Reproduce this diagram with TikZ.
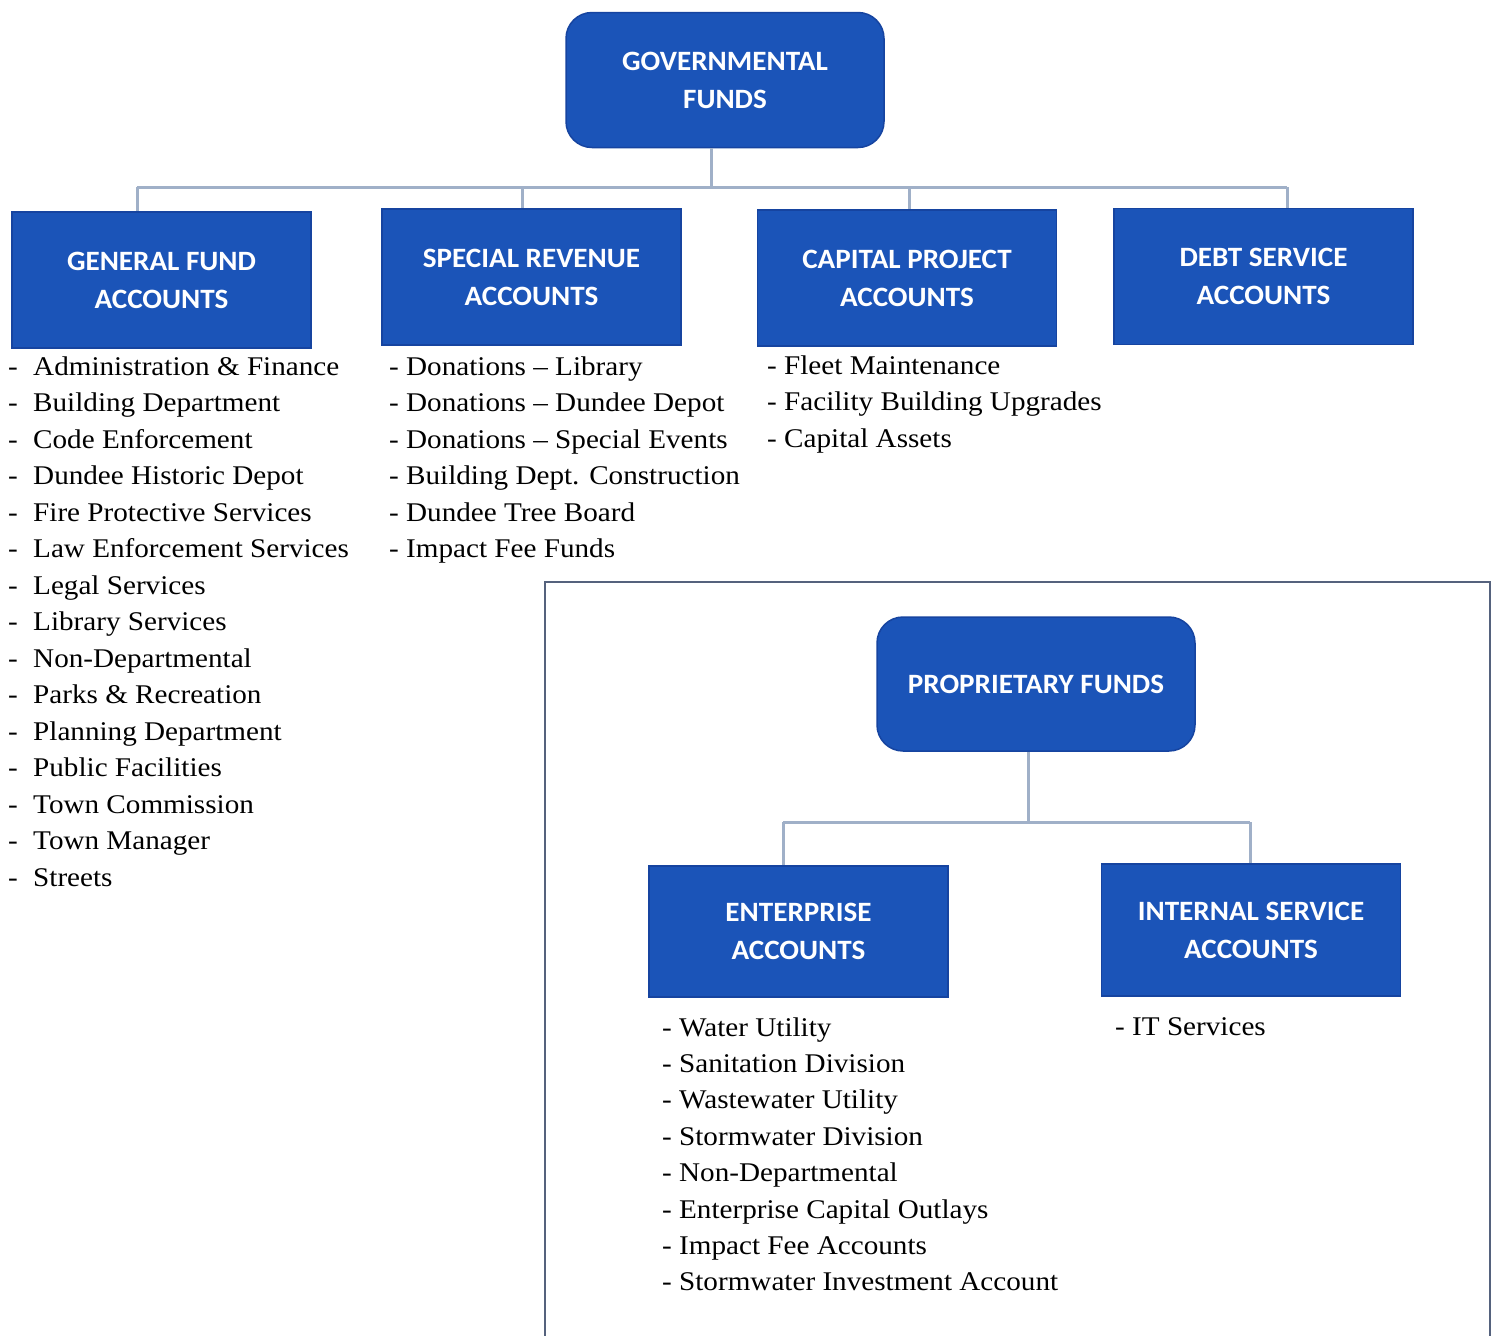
\documentclass[tikz,border=0pt]{standalone}
\usepackage{fontspec}
\setmainfont{Liberation Serif}
\newfontfamily\boxfont[FakeStretch=1.04]{Carlito}
\newfontfamily\listfont[FakeStretch=1.08,Ligatures=TeX]{Liberation Serif}
\definecolor{boxblue}{RGB}{27,84,184}
\definecolor{boxedge}{RGB}{22,68,160}
\definecolor{connc}{RGB}{160,176,200}
\definecolor{framec}{RGB}{85,98,125}
\begin{document}
\begin{tikzpicture}[x=1pt,y=-1pt,
  bluebox/.style={fill=boxblue,draw=boxedge,line width=1.5pt,text=white,align=center,
    font=\boxfont\bfseries\fontsize{28}{38}\selectfont,inner sep=0pt,
    minimum width=299,minimum height=136},
  roundbox/.style={bluebox,rounded corners=26pt,minimum width=318,minimum height=135},
  conn/.style={draw=connc,line width=3pt},
  item/.style={anchor=base west,inner sep=0pt,font=\listfont\fontsize{27}{36}\selectfont,text=black}]
\useasboundingbox (0,0) rectangle (1497,1336);
\fill[white] (0,0) rectangle (1497,1336);

% outer frame of proprietary funds
\draw[draw=framec,line width=2.5pt] (545,1340) -- (545,582) -- (1490,582) -- (1490,1340);

% governmental
\node[roundbox] (gov) at (725,80) {GOVERNMENTAL\\FUNDS};
\node[bluebox] (gen) at (161.5,280) {GENERAL FUND\\ACCOUNTS};
\node[bluebox] (spe) at (531.5,277) {SPECIAL REVENUE\\ACCOUNTS};
\node[bluebox] (cap) at (907,278) {CAPITAL PROJECT\\ACCOUNTS};
\node[bluebox] (deb) at (1263.5,276.5) {DEBT SERVICE\\ACCOUNTS};

\coordinate (gj) at (711,187);
\coordinate (b1) at (137,187);
\coordinate (b2) at (522,187);
\coordinate (b3) at (909,187);
\coordinate (b4) at (1287,187);
\draw[conn] (gov.south -| gj) -- (gj);
\draw[conn] (b1) -- (b4);
\draw[conn] (b1) -- (b1 |- gen.north);
\draw[conn] (b2) -- (b2 |- spe.north);
\draw[conn] (b3) -- (b3 |- cap.north);
\draw[conn] (b4) -- (b4 |- deb.north);

% proprietary
\node[roundbox,minimum height=134] (pro) at (1036,684) {PROPRIETARY FUNDS};
\node[bluebox,minimum height=131] (ent) at (798.5,931.5) {ENTERPRISE\\ACCOUNTS};
\node[bluebox,minimum height=132] (int) at (1251,930) {INTERNAL SERVICE\\ACCOUNTS};
\coordinate (pj) at (1028,822);
\coordinate (c1) at (783,822);
\coordinate (c2) at (1250,822);
\draw[conn] (pro.south -| pj) -- (pj);
\draw[conn] (c1) -- (c2);
\draw[conn] (c1) -- (c1 |- ent.north);
\draw[conn] (c2) -- (c2 |- int.north);

% general fund list
\foreach \t [count=\i] in {Administration \& Finance,Building Department,Code Enforcement,Dundee Historic Depot,Fire Protective Services,Law Enforcement Services,Legal Services,Library Services,Non-Departmental,Parks \& Recreation,Planning Department,Public Facilities,Town Commission,Town Manager,Streets}{
  \node[item] (gd\i) at (8,{375+36.5*(\i-1)}) {-};
  \node[item] (g\i) at (33,{375+36.5*(\i-1)}) {\t};
}
% special revenue list
\foreach \t [count=\i] in {Donations – Library,Donations – Dundee Depot,Donations – Special Events,Building Dept. Construction,Dundee Tree Board,Impact Fee Funds}{
  \node[item] (s\i) at (389,{375+36.5*(\i-1)}) {- \t};
}
% capital project list
\foreach \t [count=\i] in {Fleet Maintenance,Facility Building Upgrades,Capital Assets}{
  \node[item] (k\i) at (767,{374+36.5*(\i-1)}) {- \t};
}
% enterprise list
\foreach \t [count=\i] in {Water Utility,Sanitation Division,Wastewater Utility,Stormwater Division,Non-Departmental,Enterprise Capital Outlays,Impact Fee Accounts,Stormwater Investment Account}{
  \node[item] (e\i) at (662,{1036+36.4*(\i-1)}) {- \t};
}
% internal service list
\node[item] (i1) at (1115,1035) {- IT Services};
\end{tikzpicture}
\end{document}
